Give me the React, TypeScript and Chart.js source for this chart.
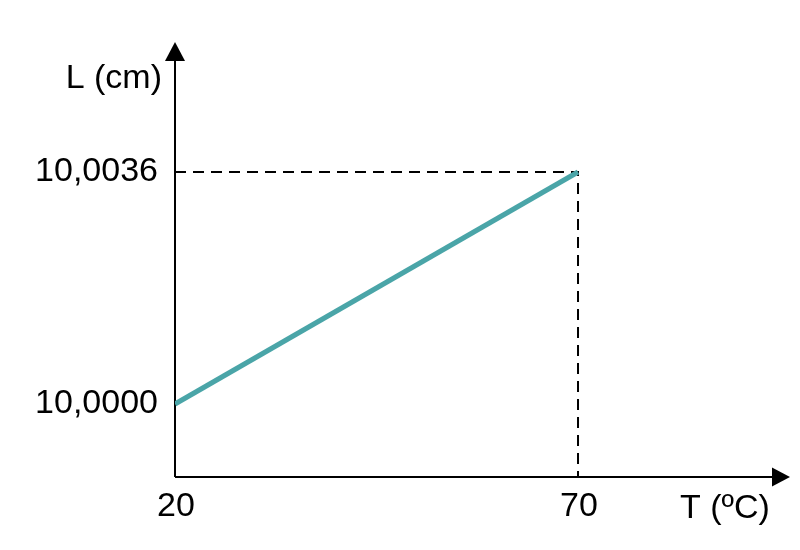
import React from "react";
import Chart, { ChartItem, Plugin } from "chart.js/auto";

// data
const temps = [20, 70];
const lengths = [10.0, 10.0036];
const xTicks = [20, 70];
const yTicks = [10.0, 10.0036];
const yTickLabels = ["10,0000", "10,0036"];
const xTitle = "T (ºC)";
const yTitle = "L (cm)";

const FONT = "34px 'Liberation Sans', Arial, sans-serif";

const axesPlugin: Plugin<"line"> = {
  id: "arrowAxes",
  beforeDatasetsDraw(chart) {
    const { ctx, chartArea, scales } = chart;
    const x = scales.x;
    const y = scales.y;
    const x0 = chartArea.left;
    const y0 = chartArea.bottom;
    ctx.save();
    // dashed guides to the last point
    ctx.strokeStyle = "#000";
    ctx.lineWidth = 2;
    ctx.setLineDash([11, 7]);
    const px = x.getPixelForValue(temps[temps.length - 1]);
    const py = y.getPixelForValue(lengths[lengths.length - 1]);
    ctx.beginPath();
    ctx.moveTo(x0, py);
    ctx.lineTo(px, py);
    ctx.lineTo(px, y0);
    ctx.stroke();
    ctx.setLineDash([]);

    // axes
    ctx.lineWidth = 2;
    ctx.beginPath();
    ctx.moveTo(x0, y0);
    ctx.lineTo(x0, chartArea.top + 15);
    ctx.moveTo(x0, y0);
    ctx.lineTo(chartArea.right - 15, y0);
    ctx.stroke();
    ctx.fillStyle = "#000";
    ctx.beginPath();
    ctx.moveTo(x0, chartArea.top);
    ctx.lineTo(x0 - 10, chartArea.top + 19);
    ctx.lineTo(x0 + 10, chartArea.top + 19);
    ctx.closePath();
    ctx.fill();
    ctx.beginPath();
    ctx.moveTo(chartArea.right, y0);
    ctx.lineTo(chartArea.right - 18, y0 - 9.5);
    ctx.lineTo(chartArea.right - 18, y0 + 9.5);
    ctx.closePath();
    ctx.fill();

    // tick labels
    ctx.font = FONT;
    ctx.textBaseline = "middle";
    ctx.textAlign = "right";
    yTicks.forEach((v, i) => {
      ctx.fillText(yTickLabels[i], x0 - 17, y.getPixelForValue(v));
    });
    ctx.textAlign = "center";
    xTicks.forEach((v) => {
      ctx.fillText(String(v), x.getPixelForValue(v) + 1, y0 + 30);
    });

    // titles
    ctx.textAlign = "right";
    ctx.fillText(yTitle, x0 - 13, 79);
    ctx.textAlign = "left";
    ctx.fillText(xTitle, 680, y0 + 32);
    ctx.restore();
  },
};

const App: React.FC = () => {
  const canvasRef = React.useRef<HTMLCanvasElement>(null);

  React.useEffect(() => {
    const chart = new Chart(canvasRef.current as ChartItem, {
      type: "line",
      data: {
        datasets: [
          {
            data: temps.map((t, i) => ({ x: t, y: lengths[i] })),
            borderColor: "#4aa5a8",
            borderWidth: 5,
            pointRadius: 0,
            fill: false,
          },
        ],
      },
      options: {
        animation: false,
        responsive: false,
        devicePixelRatio: 1,
        layout: { padding: { left: 175, right: 10, top: 42, bottom: 73 } },
        plugins: { legend: { display: false }, tooltip: { enabled: false } },
        scales: {
          x: { type: "linear", display: false, min: 20, max: 96.3 },
          y: { type: "linear", display: false, min: 9.998867, max: 10.005617 },
        },
      },
      plugins: [axesPlugin],
    });

    return () => {
      chart.destroy();
    };
  }, []);

  return (
    <div style={{ position: "absolute", left: 0, top: 0, width: 800, height: 550, background: "#fff" }}>
      <canvas ref={canvasRef} width={800} height={550}></canvas>
    </div>
  );
};

export default App;
